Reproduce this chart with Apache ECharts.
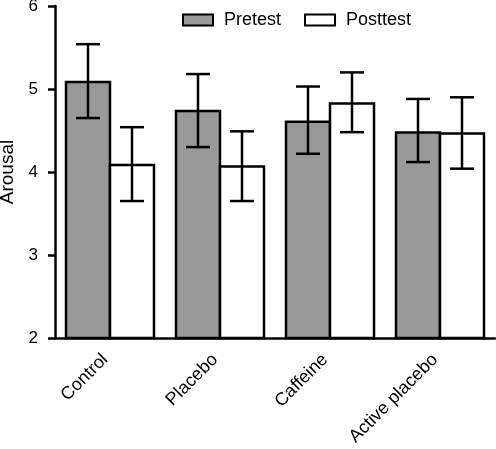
<!DOCTYPE html>
<html>
<head>
<meta charset="utf-8">
<script src="https://cdn.jsdelivr.net/npm/echarts@6/dist/echarts.min.js"></script>
<style>html,body{margin:0;padding:0;background:#fff}#c{width:496px;height:449px}</style>
</head>
<body>
<div id="c"></div>
<script>
const categories = ['Control', 'Placebo', 'Caffeine', 'Active placebo'];
const pretest = [5.10, 4.75, 4.62, 4.49];
const pretestLow = [4.65, 4.30, 4.22, 4.12];
const pretestHigh = [5.54, 5.18, 5.03, 4.88];
const posttest = [4.10, 4.08, 4.84, 4.48];
const posttestLow = [3.65, 3.65, 4.48, 4.04];
const posttestHigh = [4.54, 4.49, 5.20, 4.90];
const yTicks = [2, 3, 4, 5, 6];

const FONT = '"Liberation Sans", Arial, sans-serif';
const BORDER = 2.5;

function errData(low, high) {
  return categories.map((c, i) => [i, low[i], high[i]]);
}
function errRender(offsetSign) {
  return function (params, api) {
    const idx = api.value(0);
    const lo = api.coord([idx, api.value(1)]);
    const hi = api.coord([idx, api.value(2)]);
    const band = api.size([1, 0])[0];
    const x = lo[0] + offsetSign * band * 0.2;
    const cap = 12;
    const style = { stroke: '#000', lineWidth: 2.5, fill: null };
    return {
      type: 'group',
      children: [
        { type: 'line', shape: { x1: x, y1: hi[1], x2: x, y2: lo[1] }, style },
        { type: 'line', shape: { x1: x - cap, y1: hi[1], x2: x + cap, y2: hi[1] }, style },
        { type: 'line', shape: { x1: x - cap, y1: lo[1], x2: x + cap, y2: lo[1] }, style }
      ]
    };
  };
}

const el = document.getElementById('c');
const chart = echarts.init(el, null, { renderer: 'canvas' });
// band width = plot width / categories; bars take 40% each, borders overlap in the middle
const plotW = 496 - 55 - 1;
const band = plotW / categories.length;
const barW = band * 0.4 + BORDER;
const gapPct = (-BORDER / barW * 100).toFixed(3) + '%';

chart.setOption({
  animation: false,
  backgroundColor: '#fff',
  textStyle: { fontFamily: FONT },
  legend: {
    data: ['Pretest', 'Posttest'],
    icon: 'rect',
    left: 182,
    top: 11,
    padding: 0,
    itemWidth: 30,
    itemHeight: 11,
    itemGap: 23,
    textStyle: { fontFamily: FONT, fontSize: 18, color: '#000', padding: [0, 0, 0, 6] }
  },
  grid: { left: 55, right: 1, top: 6, bottom: 111, containLabel: false, outerBoundsMode: 'none' },
  xAxis: {
    type: 'category',
    data: categories,
    axisLine: { lineStyle: { color: '#000', width: 2.5 } },
    axisTick: { alignWithLabel: true, length: 7, lineStyle: { color: '#000', width: 2.5 } },
    axisLabel: { rotate: 45, fontSize: 18, color: '#000', fontFamily: FONT, margin: 14, padding: [0, 7, 0, 0] }
  },
  yAxis: {
    type: 'value',
    min: yTicks[0],
    max: yTicks[yTicks.length - 1],
    interval: 1,
    name: 'Arousal',
    nameLocation: 'middle',
    nameGap: 27,
    nameTextStyle: { fontSize: 19, color: '#000', fontFamily: FONT },
    axisLine: { show: true, lineStyle: { color: '#000', width: 2.5 } },
    axisTick: { show: true, length: 7, lineStyle: { color: '#000', width: 2.5 } },
    axisLabel: { fontSize: 17, color: '#000', fontFamily: FONT, margin: 17 },
    splitLine: { show: false }
  },
  series: [
    {
      name: 'Pretest', type: 'bar', data: pretest,
      barWidth: barW, barGap: gapPct,
      itemStyle: { color: '#999999', borderColor: '#000', borderWidth: BORDER }
    },
    {
      name: 'Posttest', type: 'bar', data: posttest,
      barWidth: barW, barGap: gapPct,
      itemStyle: { color: '#ffffff', borderColor: '#000', borderWidth: BORDER }
    },
    { type: 'custom', name: 'preErr', data: errData(pretestLow, pretestHigh), renderItem: errRender(-1), z: 5 },
    { type: 'custom', name: 'postErr', data: errData(posttestLow, posttestHigh), renderItem: errRender(1), z: 5 }
  ]
});
</script>
</body>
</html>
